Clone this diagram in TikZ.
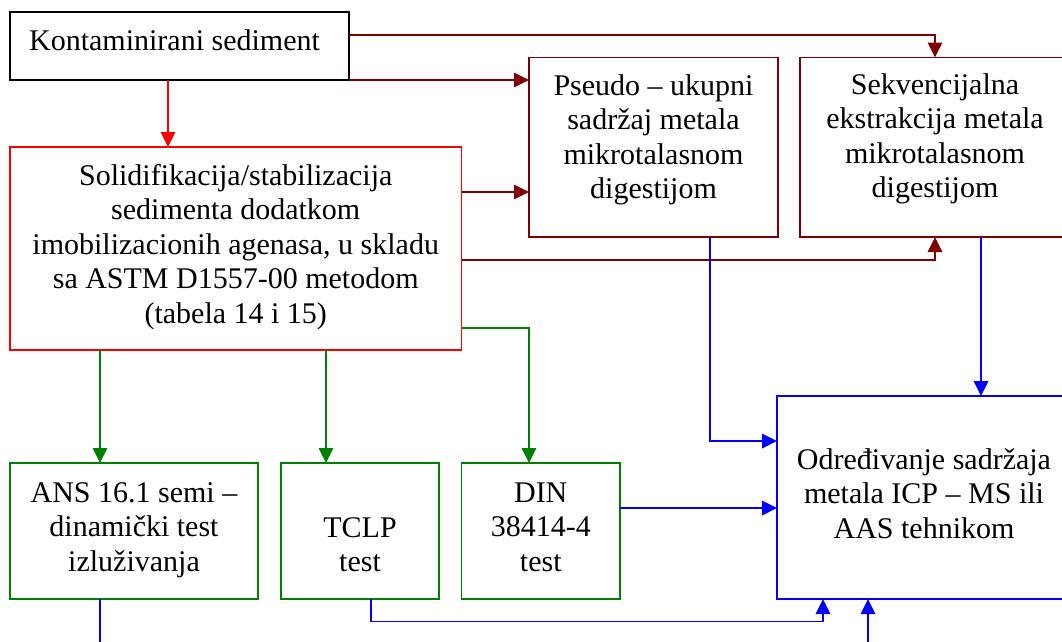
\documentclass[tikz,border=0pt]{standalone}
\usepackage{fontspec}
\setmainfont{Liberation Serif}
\usetikzlibrary{arrows.meta}
\definecolor{dred}{RGB}{128,0,0}
\definecolor{dgreen}{RGB}{0,128,0}
\begin{document}
\begin{tikzpicture}[x=1pt,y=-1pt,
  box/.style={draw, line width=1.9pt, rectangle, inner sep=0pt, outer sep=0pt},
  txt/.style={align=center, inner sep=0pt, font=\fontsize{30}{34.5}\selectfont},
  conn/.style={line width=1.5pt, -{Triangle[length=15pt,width=14.5pt]}},
  plainconn/.style={line width=1.8pt}]
\useasboundingbox (0,0) rectangle (1062,641);
\clip (0,0) rectangle (1062,641);
\fill[white] (0,0) rectangle (1062,641);

% boxes
\node[box, minimum width=339pt, minimum height=68pt] (kont) at (179.5,46) {};
\node[box, draw=red, minimum width=451.5pt, minimum height=203pt] (solid) at (235.75,248.5) {};
\node[box, draw=dred, minimum width=249pt, minimum height=179.5pt] (pseudo) at (653.5,147.25) {};
\node[box, draw=dred, minimum width=270pt, minimum height=179.5pt] (sek) at (935,147.25) {};
\node[box, draw=blue, minimum width=294pt, minimum height=203pt] (icp) at (924,497.5) {};
\node[box, draw=dgreen, minimum width=248pt, minimum height=136pt] (ans) at (134,531) {};
\node[box, draw=dgreen, minimum width=158pt, minimum height=136pt] (tclp) at (360,531) {};
\node[box, draw=dgreen, minimum width=158.5pt, minimum height=136pt] (din) at (540.75,531) {};

% texts
\node[txt] (kontT) at (174.5,43.1) {\strut Kontaminirani sediment\strut};
\node[txt] (solidT) at (235.75,247.1) {\strut Solidifikacija/stabilizacija\\sedimenta dodatkom\\imobilizacionih agenasa, u skladu\\sa ASTM D1557-00 metodom\\(tabela 14 i 15)\strut};
\node[txt] (pseudoT) at (653.5,139.9) {\strut Pseudo – ukupni\\sadržaj metala\\mikrotalasnom\\digestijom\strut};
\node[txt] (sekT) at (935,138.9) {\strut Sekvencijalna\\ekstrakcija metala\\mikrotalasnom\\digestijom\strut};
\node[txt] (icpT) at (924,496.6) {\strut Određivanje sadržaja\\metala ICP – MS ili\\AAS tehnikom\strut};
\node[txt] (ansT) at (134,529.6) {\strut ANS 16.1 semi –\\dinamički test\\izluživanja\strut};
\node[txt] (tclpT) at (360,547.4) {\strut TCLP\\test\strut};
\node[txt] (dinT) at (540.75,529.6) {\strut DIN\\38414-4\\test\strut};

% helper coordinates
\coordinate (xk) at (168,0);
\coordinate (yA) at (0,35);
\coordinate (yB) at (0,192);
\coordinate (yC) at (0,260);
\coordinate (yD) at (0,328);
\coordinate (x1) at (100,0);
\coordinate (x2) at (326,0);
\coordinate (x3) at (529,0);
\coordinate (xp) at (710,0);
\coordinate (yP) at (0,441);
\coordinate (xs) at (981,0);
\coordinate (yE) at (0,508);
\coordinate (xt) at (371,0);
\coordinate (yT) at (0,621.5);
\coordinate (xt2) at (823,0);
\coordinate (xb) at (868,0);
\coordinate (ansEnd) at (100,645);
\coordinate (icpIn) at (868,645);

% connectors
\draw[conn, red, line width=1.3pt] (kont.south -| xk) -- (solid.north -| xk);
\draw[conn, dred] (kont.east |- yA) -| (sek.north);
\draw[conn, dred] (kont.south east) -- (kont.south east -| pseudo.west);
\draw[conn, dred] (solid.east |- yB) -- (pseudo.west |- yB);
\draw[conn, dred] (solid.east |- yC) -| (sek.south);
\draw[conn, dgreen, line width=1.3pt] (solid.south -| x1) -- (ans.north -| x1);
\draw[conn, dgreen, line width=1.3pt] (solid.south -| x2) -- (tclp.north -| x2);
\draw[conn, dgreen, line width=1.3pt] (solid.east |- yD) -| (din.north -| x3);
\draw[conn, blue, line width=1.8pt] (pseudo.south -| xp) |- (icp.west |- yP);
\draw[conn, blue, line width=1.8pt] (sek.south -| xs) -- (icp.north -| xs);
\draw[conn, blue, line width=1.8pt] (din.east |- yE) -- (icp.west |- yE);
\draw[conn, blue, line width=1.8pt] (tclp.south -| xt) |- (yT -| xt2) -- (icp.south -| xt2);
\draw[plainconn, blue] (ans.south -| x1) -- (ansEnd);
\draw[conn, blue, line width=1.8pt] (icpIn) -- (icp.south -| xb);
\end{tikzpicture}
\end{document}
